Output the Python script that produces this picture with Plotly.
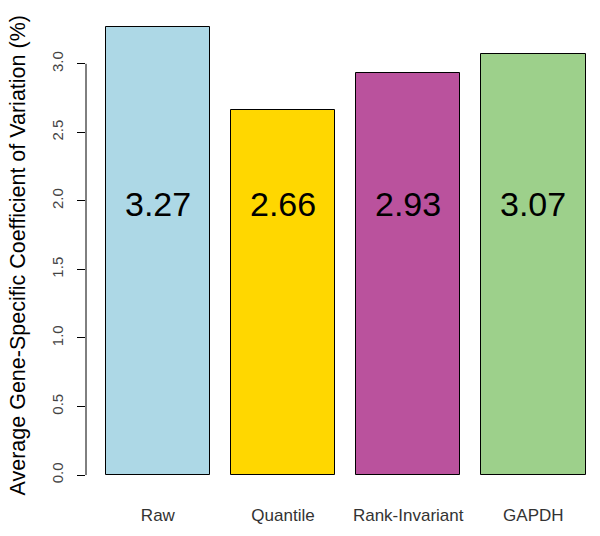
import plotly.graph_objects as go

# --- data ---
METHODS = ["Raw", "Quantile", "Rank-Invariant", "GAPDH"]
AVG_CV = [3.27, 2.66, 2.93, 3.07]
BAR_COLORS = ["#ADD8E6", "#FFD700", "#BA529D", "#9DD08B"]
Y_TICKS = [0.0, 0.5, 1.0, 1.5, 2.0, 2.5, 3.0]
Y_TITLE = "Average Gene-Specific Coefficient of Variation (%)"

# R barplot layout: width 1, space 0.2 -> centres 0.7, 1.9, 3.1, 4.3
centers = [0.7 + 1.2 * i for i in range(len(METHODS))]

FONT = "Liberation Sans, Arial, sans-serif"

fig = go.Figure()
fig.add_trace(go.Bar(
    x=centers, y=AVG_CV, width=1.0,
    marker=dict(color=BAR_COLORS, line=dict(color="#000000", width=1)),
    hoverinfo="skip", showlegend=False,
))

# big value labels in the middle of each bar
for cx, v in zip(centers, AVG_CV):
    fig.add_annotation(
        x=cx, y=1.98, text=f"{v:.2f}", showarrow=False,
        font=dict(family=FONT, size=34, color="#000000"),
        xanchor="center", yanchor="middle",
    )

# y title as a rotated annotation so it can sit slightly below centre
fig.add_annotation(
    x=0, y=0.5, xref="paper", yref="paper",
    xanchor="center", yanchor="middle",
    xshift=-69, yshift=-4.5, textangle=-90, showarrow=False,
    text=Y_TITLE,
    font=dict(family=FONT, size=21.5, color="#000000"),
)

# R-style axis line only over the tick span
fig.add_shape(
    type="line", xref="paper", yref="y",
    x0=0, x1=0, y0=Y_TICKS[0], y1=Y_TICKS[-1],
    line=dict(color="#000000", width=1),
)

fig.update_layout(
    width=600, height=536,
    margin=dict(l=86, r=0, t=9, b=43),
    plot_bgcolor="#ffffff", paper_bgcolor="#ffffff",
    bargap=0,
    xaxis=dict(
        range=[0.011, 4.939],
        tickvals=centers, ticktext=METHODS,
        showline=False, showgrid=False, zeroline=False,
        ticks="", ticklabelstandoff=10,
        tickfont=dict(family=FONT, size=17, color="#333333"),
        fixedrange=True,
    ),
    yaxis=dict(
        range=[-0.131, 3.40],
        tickvals=Y_TICKS, ticktext=[f"{t:.1f}" for t in Y_TICKS],
        ticks="outside", ticklen=8, tickcolor="#000000",
        tickangle=-90, ticklabelstandoff=8,
        showline=False, showgrid=False, zeroline=False,
        tickfont=dict(family=FONT, size=15, color="#444444"),
        fixedrange=True,
    ),
)

# drop the default 8px body margin so the figure fills the window exactly
fig.write_html(
    "out.html",
    config={"displayModeBar": False},
    post_script="document.body.style.margin='0';",
)
